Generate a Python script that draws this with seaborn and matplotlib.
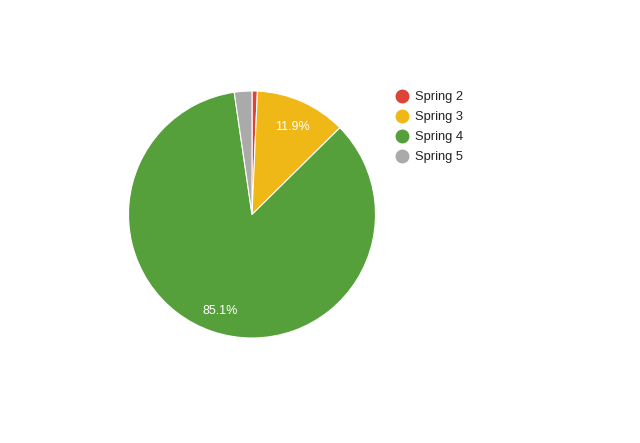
import matplotlib
matplotlib.use("Agg")
import matplotlib.pyplot as plt
from matplotlib.lines import Line2D
import seaborn as sns

sns.set_theme(style="white")
plt.rcParams['font.family'] = ['Liberation Sans', 'DejaVu Sans']

labels = ["Spring 2", "Spring 3", "Spring 4", "Spring 5"]
values = [0.7, 11.9, 85.1, 2.3]
colors = ["#DB4437", "#F0B816", "#56A03C", "#AAAAAA"]

fig = plt.figure(figsize=(6.4, 4.43), dpi=100)
fig.patch.set_facecolor("white")
W, H = 640, 443
cx, cy, r = 252, 214.5, 123.5
ax = fig.add_axes([(cx - r) / W, (H - cy - r) / H, 2 * r / W, 2 * r / H])

def fmt(p):
    return f"{p:.1f}%" if p >= 5 else ""

wedges, texts, autotexts = ax.pie(
    values, colors=colors, startangle=90, counterclock=False,
    autopct=fmt, pctdistance=0.8, radius=1,
    wedgeprops=dict(edgecolor="white", linewidth=0.8),
    textprops=dict(color="white", fontsize=9),
)
for t in autotexts:
    x, y = t.get_position()
    t.set_position((x, y - 2.5 / r))
ax.set_xlim(-1, 1)
ax.set_ylim(-1, 1)
ax.set_aspect("equal")
ax.axis("off")

handles = [Line2D([0], [0], marker="o", linestyle="", markersize=9,
                  markerfacecolor=c, markeredgecolor=c) for c in colors]
fig.legend(handles, labels, loc="upper left",
           bbox_to_anchor=(396 / W, 1 - 91 / H), frameon=False,
           fontsize=9.3, handletextpad=0.45, labelspacing=0.62,
           handlelength=1.0, borderpad=0, borderaxespad=0,
           labelcolor="#222222")

fig.savefig("out.png", dpi=100, facecolor="white")
